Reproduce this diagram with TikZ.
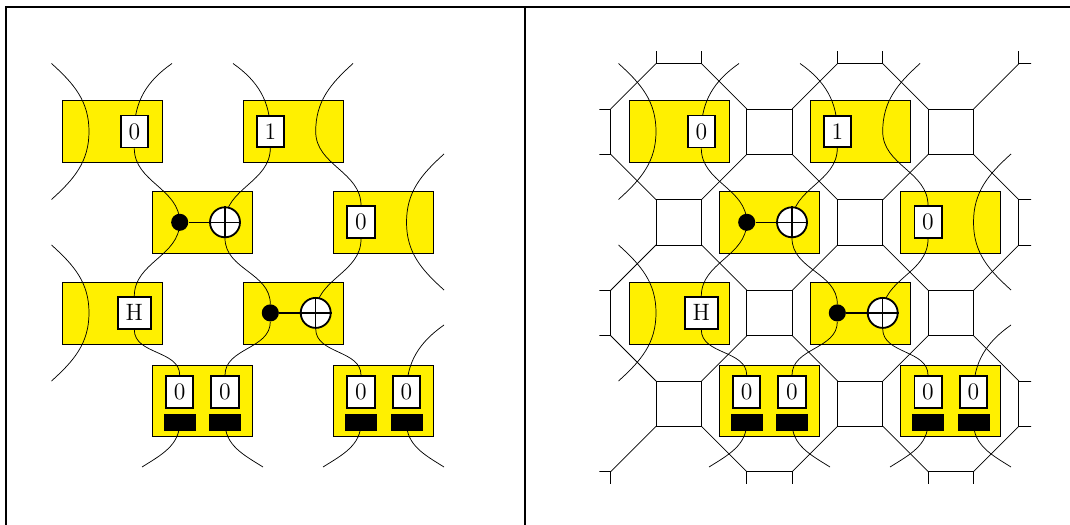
\documentclass[tikz,border=0pt]{standalone}
\definecolor{tileyellow}{RGB}{255,240,0}
\pgfdeclarelayer{tiles}
\pgfdeclarelayer{wires}
\pgfsetlayers{tiles,wires,main}
\begin{document}
\begin{tikzpicture}[
        x=0.55pt, y=-0.55pt,
        tile/.style={rectangle, draw, fill=tileyellow, minimum width=55pt, minimum height=34.1pt, inner sep=0pt},
        tiletall/.style={tile, minimum height=39pt},
        qbox/.style={rectangle, draw, line width=1pt, fill=white, inner sep=4.3pt, font=\fontsize{13}{15}\selectfont},
        ctrl/.style={circle, fill=black, minimum size=9.4pt, inner sep=0pt},
        targ/.style={circle, draw, line width=1pt, fill=white, minimum size=16.5pt, inner sep=0pt},
        meas/.style={rectangle, fill=black, minimum width=17.6pt, minimum height=9.4pt, inner sep=0pt},
    ]
    \useasboundingbox (0,0) rectangle (1070,525);
    % frame
    \draw[line width=1.1pt] (1070,6.8) -- (5.5,6.8) -- (5.5,525);
    \draw[line width=1.1pt] (524.5,6.8) -- (524.5,525);
    % octagon lattice, right panel only
    \begin{scope}
        \clip (599.3,52) rectangle (1031,483.3);
        \foreach \cx/\cy in {678.7/41,860/41,1041.3/41,678.7/222.3,860/222.3,1041.3/222.3,678.7/403.6,860/403.6,1041.3/403.6}
            \draw (\cx-22.67,\cy-22.67) rectangle (\cx+22.67,\cy+22.67);
        \foreach \cx in {588,769.5,950.9} {
            \foreach \cy in {131.7,313,494.3} {
                \draw (\cx-22.67,\cy-22.67) rectangle (\cx+22.67,\cy+22.67);
                \foreach \sx in {-1,1}
                    \foreach \sy in {-1,1}
                        \draw (\cx+\sx*22.67,\cy+\sy*22.67) -- ++(\sx*45.33,\sy*45.33);
            }
        }
    \end{scope}
    % the same circuit in both panels
    \foreach \side/\dx in {l/0,r/567} {
        \begin{scope}[shift={(\dx,0)}, name prefix=\side-]
            \begin{pgfonlayer}{tiles}
                \node[tile](tilea) at (112,131.5) {};
                \node[tile](tileb) at (293.3,131.5) {};
                \node[tile](tilec) at (202.3,222.3) {};
                \node[tile](tiled) at (383.7,222.3) {};
                \node[tile](tilee) at (112,312.9) {};
                \node[tile](tilef) at (293.3,312.9) {};
                \node[tiletall](tileg) at (202.3,401.2) {};
                \node[tiletall](tileh) at (383.7,401.2) {};
            \end{pgfonlayer}

            \node[qbox](zeroa) at (134.3,131.5) {0};
            \node[qbox](one) at (270.3,131.5) {1};
            \node[ctrl](ctrla) at (179.7,222.3) {};
            \node[targ](targa) at (225,222.3) {};
            \node[qbox](zerob) at (361,222.3) {0};
            \node[qbox](hada) at (134.3,312.9) {H};
            \node[ctrl](ctrlb) at (270.3,312.9) {};
            \node[targ](targb) at (315.7,312.9) {};
            \node[qbox](zeroc) at (179.7,392) {0};
            \node[qbox](zerod) at (225,392) {0};
            \node[qbox](zeroe) at (361,392) {0};
            \node[qbox](zerof) at (406.5,392) {0};
            \node[meas](measa) at (179.7,422.5) {};
            \node[meas](measb) at (225,422.5) {};
            \node[meas](measc) at (361,422.5) {};
            \node[meas](measd) at (406.5,422.5) {};

            \draw[thick] (ctrla) -- (targa);
            \draw[thick] (ctrlb) -- (targb);
            \draw[thick] (targa.north) -- (targa.south);
            \draw[thick] (targa.west) -- (targa.east);
            \draw[thick] (targb.north) -- (targb.south);
            \draw[thick] (targb.west) -- (targb.east);

            \coordinate (bendl) at (89,131.5);
            \coordinate (bendm) at (315.7,131.5);
            \coordinate (bendn) at (406.5,222.3);
            \coordinate (bendo) at (89,312.9);
            \coordinate (enda) at (51.5,63.5);
            \coordinate (endb) at (51.5,199.5);
            \coordinate (endc) at (172,63.5);
            \coordinate (endd) at (233,63.5);
            \coordinate (ende) at (353,63.5);
            \coordinate (endf) at (444,154);
            \coordinate (endg) at (444,290);
            \coordinate (endh) at (51.5,245);
            \coordinate (endi) at (51.5,381);
            \coordinate (endj) at (444,325);
            \coordinate (endk) at (142,467);
            \coordinate (endl) at (263,467);
            \coordinate (endm) at (323,467);
            \coordinate (endn) at (444,467);

            \begin{pgfonlayer}{wires}
                \draw (enda) to[out=-42,in=90] (bendl) to[out=-90,in=42] (endb);
                \draw (endc) to[out=-145,in=90] (zeroa.center);
                \draw (zeroa.south) to[out=-90,in=90] (ctrla.center);
                \draw (ctrla.center) to[out=-90,in=90] (hada.north);
                \draw (hada.south) to[out=-90,in=90] (zeroc.north);
                \draw (endd) to[out=-35,in=90] (one.center);
                \draw (one.south) to[out=-90,in=90] (targa.center);
                \draw (targa.south) to[out=-90,in=90] (ctrlb.north);
                \draw (ctrlb.south) to[out=-90,in=90] (zerod.north);
                \draw (ende) to[out=-138,in=90] (bendm) to[out=-90,in=90] (zerob.north);
                \draw (zerob.south) to[out=-90,in=90] (targb.center);
                \draw (targb.south) to[out=-90,in=90] (zeroe.north);
                \draw (endf) to[out=-138,in=90] (bendn) to[out=-90,in=138] (endg);
                \draw (endh) to[out=-42,in=90] (bendo) to[out=-90,in=42] (endi);
                \draw (endj) to[out=-145,in=90] (zerof.center);
                \draw (measa.center) to[out=-90,in=32] (endk);
                \draw (measb.center) to[out=-90,in=148] (endl);
                \draw (measc.center) to[out=-90,in=32] (endm);
                \draw (measd.center) to[out=-90,in=148] (endn);
            \end{pgfonlayer}
        \end{scope}
    }
\end{tikzpicture}
\end{document}
